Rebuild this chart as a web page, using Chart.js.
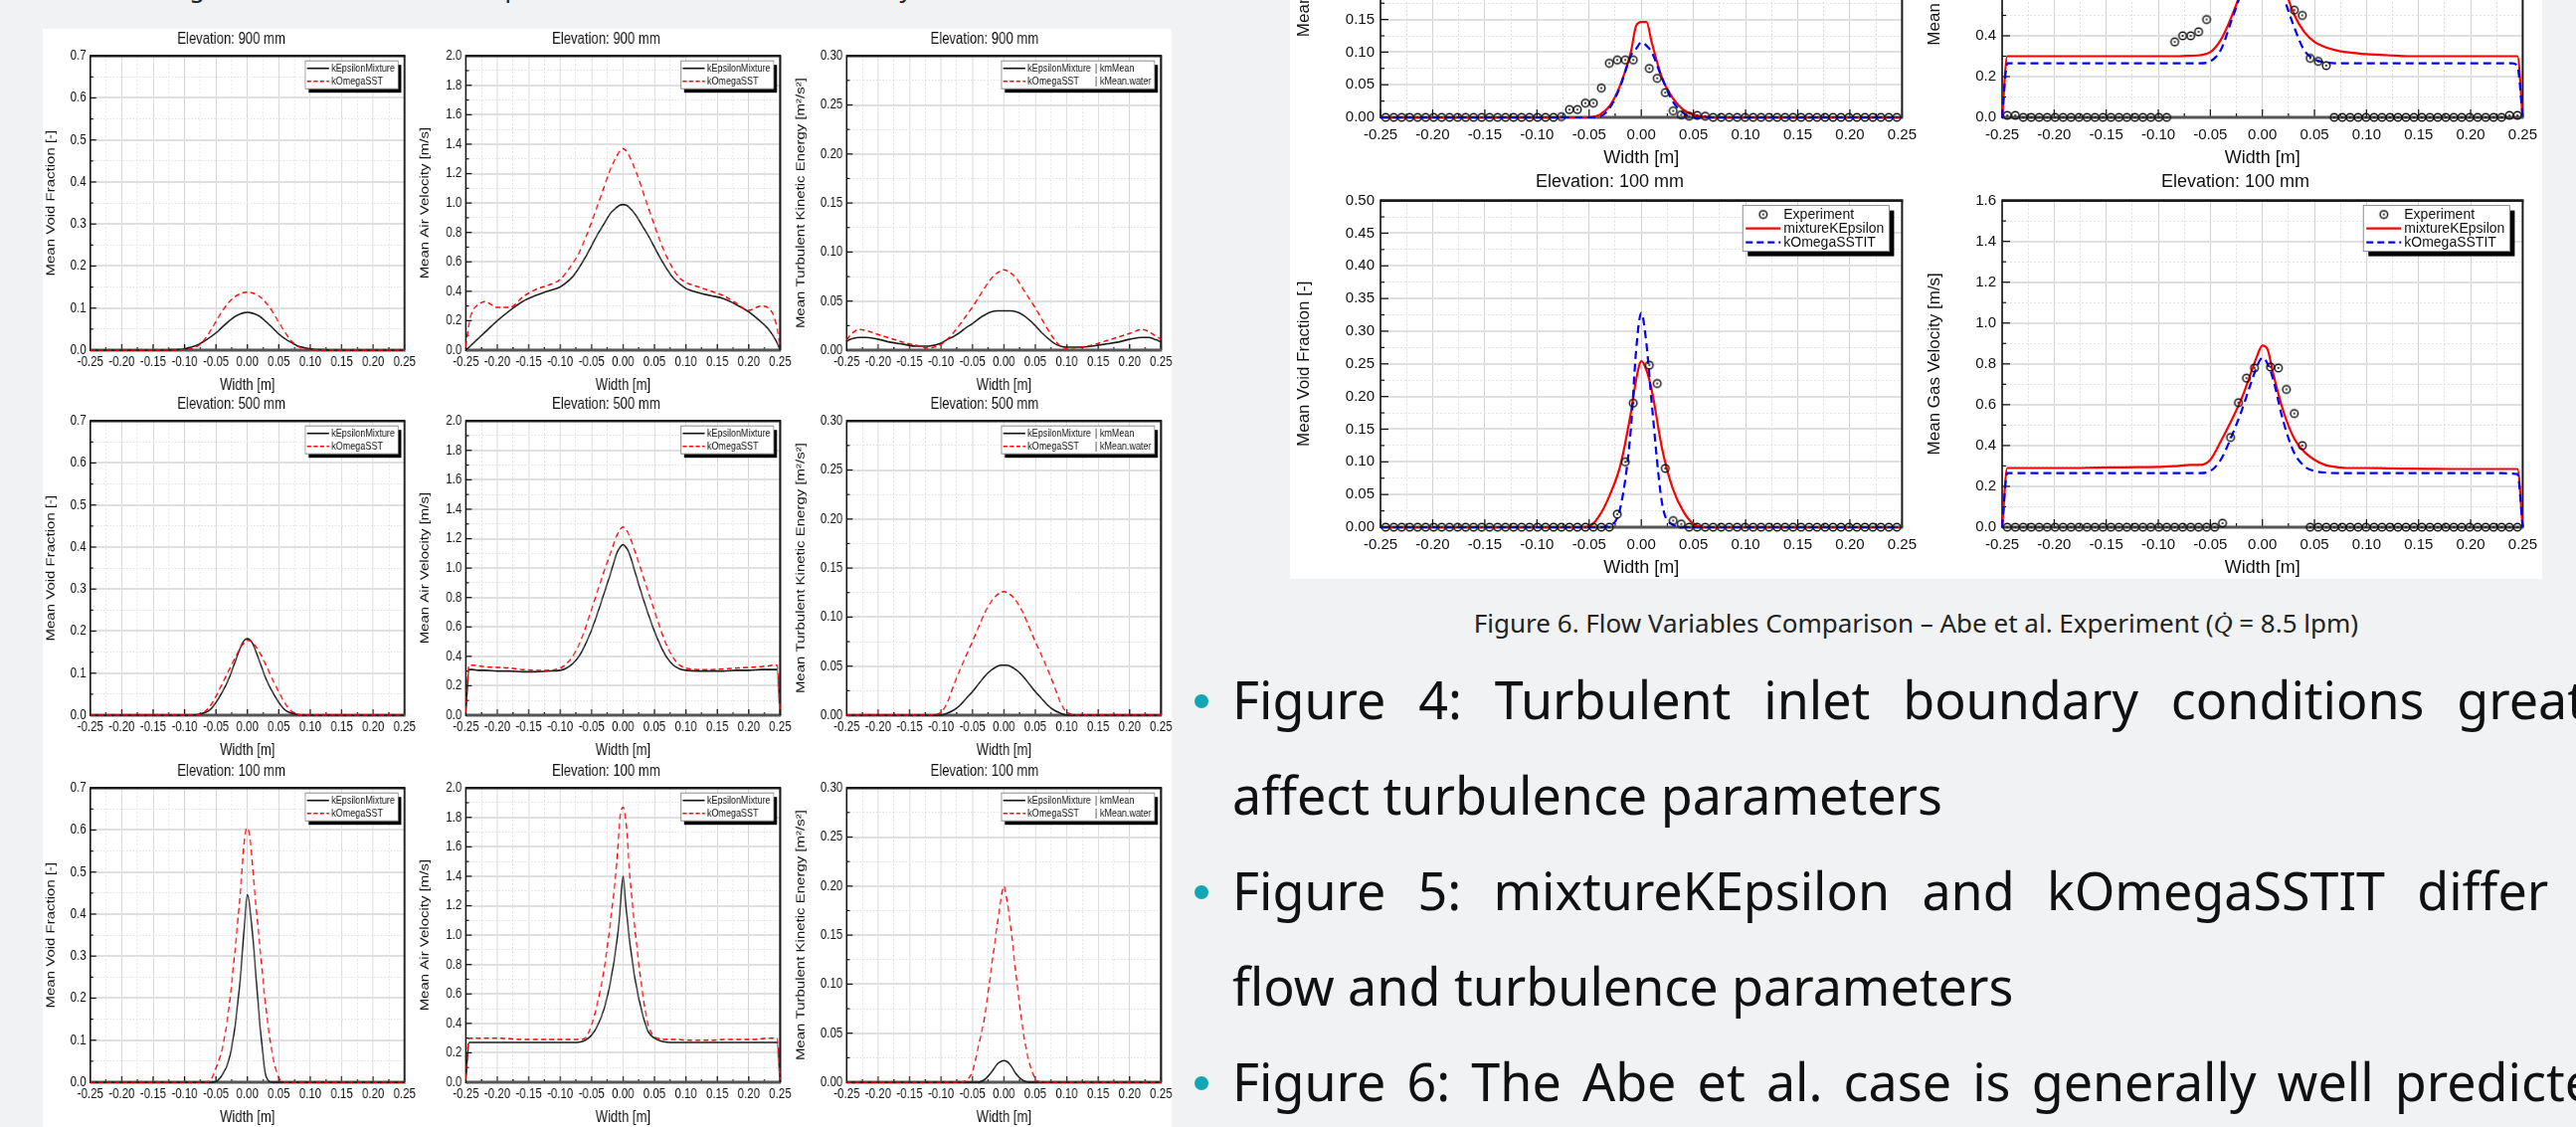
<!DOCTYPE html>
<html>
<head>
<meta charset="utf-8">
<script src="https://cdn.jsdelivr.net/npm/chart.js@4.4.1/dist/chart.umd.min.js"></script>
<style>
  body { margin: 0; width: 2590px; height: 1133px; overflow: hidden; position: relative;
         background: #f1f2f4; font-family: 'Noto Sans', sans-serif; }
  .panelL { position: absolute; left: 43px; top: 29px; width: 1135px; height: 1104px; background: #fff; }
  .panelR { position: absolute; left: 1297px; top: 0; width: 1259px; height: 582px; background: #fff; }
  .cap4 { position: absolute; left: 43px; width: 1135px; top: -27px; text-align: center;
          font-size: 25px; line-height: 28px; color: #222; white-space: nowrap; }
  .cap6 { position: absolute; left: 1297px; width: 1259px; top: 609px; text-align: center;
          font-size: 26px; line-height: 34px; color: #222; white-space: nowrap; }
  .cap6 i { font-family: 'Liberation Serif', serif; }
  .bullets { position: absolute; left: 1239px; top: 655px; width: 1401px; font-size: 52px;
             line-height: 96px; color: #111; text-align: justify; }
  .bullets p { margin: 0; position: relative; }
  .bullets p::before { content: ''; position: absolute; left: -38px; top: 43px; width: 14px; height: 14px;
                       border-radius: 50%; background: #12a6b6; }
</style>
</head>
<body>
<div class="panelL"></div>
<div class="panelR"></div>
<div class="cap4">Figure 4. Flow Variables Comparison – Turbulent Inlet Boundary Conditions</div>
<div class="cap6">Figure 6. Flow Variables Comparison – Abe et al. Experiment (<i>Q̇</i> = 8.5 lpm)</div>
<div class="bullets">
  <p>Figure 4: Turbulent inlet boundary conditions greatly affect turbulence parameters</p>
  <p>Figure 5: mixtureKEpsilon and kOmegaSSTIT differ in flow and turbulence parameters</p>
  <p>Figure 6: The Abe et al. case is generally well predicted with both turbulence models</p>
</div>
<script>
const FONT = "'Liberation Sans', Arial, sans-serif";
Chart.defaults.font.family = FONT;
Chart.defaults.color = '#111';

// shared width positions [m] for the simulated profiles
const xs = [-0.25, -0.245, -0.24, -0.23, -0.22, -0.2, -0.18, -0.16, -0.14, -0.12, -0.1,
            -0.09, -0.08, -0.07, -0.06, -0.05, -0.04, -0.03, -0.02, -0.01, -0.005,
            0,
            0.005, 0.01, 0.02, 0.03, 0.04, 0.05, 0.06, 0.07, 0.08, 0.09,
            0.1, 0.12, 0.14, 0.16, 0.18, 0.2, 0.22, 0.23, 0.24, 0.245, 0.25];

// Figure 4 (left): kEpsilonMixture (Ke) and kOmegaSST (Kw)
const vf900Ke = [0, 0, 0, 0, 0, 0, 0, 0, 0, 0.001, 0.003,
  0.007, 0.012, 0.02, 0.03, 0.041, 0.055, 0.068, 0.08, 0.087, 0.089,
  0.09,
  0.089, 0.087, 0.08, 0.067, 0.053, 0.038, 0.027, 0.018, 0.01, 0.006,
  0.003, 0.001, 0, 0, 0, 0, 0, 0, 0, 0, 0];
const vf900Kw = [0, 0, 0, 0, 0, 0, 0, 0, 0, 0, 0.001,
  0.003, 0.009, 0.022, 0.043, 0.068, 0.093, 0.113, 0.127, 0.135, 0.137,
  0.138,
  0.137, 0.135, 0.127, 0.112, 0.091, 0.066, 0.042, 0.022, 0.009, 0.003,
  0.001, 0, 0, 0, 0, 0, 0, 0, 0, 0, 0];
const av900Ke = [0, 0.02, 0.04, 0.08, 0.12, 0.2, 0.27, 0.33, 0.37, 0.4, 0.43,
  0.46, 0.5, 0.56, 0.63, 0.71, 0.79, 0.86, 0.93, 0.97, 0.985,
  0.99,
  0.985, 0.97, 0.92, 0.85, 0.78, 0.7, 0.62, 0.55, 0.49, 0.45,
  0.42, 0.39, 0.37, 0.35, 0.31, 0.26, 0.19, 0.15, 0.09, 0.05, 0];
const av900Kw = [0.02, 0.18, 0.26, 0.31, 0.33, 0.29, 0.29, 0.36, 0.41, 0.44, 0.48,
  0.53, 0.59, 0.66, 0.76, 0.87, 0.99, 1.11, 1.23, 1.32, 1.355,
  1.37,
  1.355, 1.32, 1.22, 1.1, 0.97, 0.85, 0.73, 0.63, 0.55, 0.49,
  0.46, 0.43, 0.4, 0.37, 0.32, 0.27, 0.3, 0.29, 0.23, 0.15, 0.02];
const tk900Ke = [0.009, 0.011, 0.012, 0.013, 0.013, 0.011, 0.008, 0.006, 0.004, 0.004, 0.007,
  0.011, 0.014, 0.018, 0.023, 0.027, 0.032, 0.036, 0.039, 0.04, 0.04,
  0.04,
  0.04, 0.04, 0.039, 0.036, 0.031, 0.025, 0.018, 0.012, 0.007, 0.004,
  0.003, 0.003, 0.004, 0.006, 0.008, 0.011, 0.013, 0.013, 0.011, 0.01, 0.008];
const tk900Kw = [0.01, 0.015, 0.018, 0.021, 0.02, 0.016, 0.012, 0.008, 0.005, 0.002, 0.006,
  0.011, 0.018, 0.026, 0.035, 0.044, 0.054, 0.064, 0.073, 0.079, 0.081,
  0.082,
  0.081, 0.079, 0.073, 0.063, 0.053, 0.043, 0.032, 0.021, 0.011, 0.004,
  0.002, 0.003, 0.005, 0.009, 0.013, 0.017, 0.021, 0.019, 0.015, 0.013, 0.011];

const vf500Ke = [0, 0, 0, 0, 0, 0, 0, 0, 0, 0, 0,
  0, 0.001, 0.005, 0.012, 0.03, 0.055, 0.085, 0.125, 0.165, 0.178,
  0.182,
  0.178, 0.165, 0.125, 0.085, 0.055, 0.03, 0.012, 0.005, 0.001, 0,
  0, 0, 0, 0, 0, 0, 0, 0, 0, 0, 0];
const vf500Kw = [0, 0, 0, 0, 0, 0, 0, 0, 0, 0, 0,
  0, 0, 0.006, 0.02, 0.045, 0.075, 0.105, 0.135, 0.163, 0.172,
  0.178,
  0.177, 0.17, 0.148, 0.118, 0.085, 0.055, 0.028, 0.01, 0.002, 0,
  0, 0, 0, 0, 0, 0, 0, 0, 0, 0, 0];
const av500Ke = [0, 0.31, 0.31, 0.305, 0.305, 0.3, 0.3, 0.295, 0.295, 0.3, 0.305,
  0.32, 0.35, 0.4, 0.48, 0.58, 0.7, 0.83, 0.96, 1.1, 1.14,
  1.16,
  1.14, 1.1, 0.96, 0.82, 0.69, 0.57, 0.47, 0.39, 0.34, 0.315,
  0.305, 0.3, 0.3, 0.3, 0.305, 0.305, 0.31, 0.31, 0.31, 0.31, 0];
const av500Kw = [0.02, 0.34, 0.34, 0.335, 0.33, 0.325, 0.32, 0.31, 0.305, 0.305, 0.32,
  0.35, 0.4, 0.48, 0.59, 0.72, 0.85, 0.98, 1.1, 1.22, 1.26,
  1.28,
  1.26, 1.22, 1.1, 0.97, 0.84, 0.71, 0.58, 0.47, 0.39, 0.34,
  0.32, 0.31, 0.31, 0.315, 0.32, 0.325, 0.33, 0.335, 0.34, 0.34, 0.02];
const tk500Ke = [0, 0, 0, 0, 0, 0, 0, 0, 0, 0, 0,
  0.002, 0.005, 0.01, 0.017, 0.024, 0.032, 0.04, 0.046, 0.05, 0.051,
  0.051,
  0.051, 0.05, 0.046, 0.04, 0.032, 0.024, 0.017, 0.01, 0.005, 0.002,
  0, 0, 0, 0, 0, 0, 0, 0, 0, 0, 0];
const tk500Kw = [0, 0, 0, 0, 0, 0, 0, 0, 0, 0, 0.003,
  0.013, 0.03, 0.046, 0.061, 0.075, 0.09, 0.105, 0.116, 0.123, 0.125,
  0.126,
  0.125, 0.123, 0.116, 0.105, 0.09, 0.075, 0.061, 0.046, 0.03, 0.013,
  0.003, 0, 0, 0, 0, 0, 0, 0, 0, 0, 0];

const vf100Ke = [0, 0, 0, 0, 0, 0, 0, 0, 0, 0, 0,
  0, 0, 0, 0, 0.002, 0.018, 0.05, 0.13, 0.27, 0.37,
  0.446,
  0.4, 0.32, 0.136, 0.012, 0, 0, 0, 0, 0, 0,
  0, 0, 0, 0, 0, 0, 0, 0, 0, 0, 0];
const vf100Kw = [0, 0, 0, 0, 0, 0, 0, 0, 0, 0, 0,
  0, 0, 0, 0.003, 0.034, 0.08, 0.17, 0.31, 0.475, 0.575,
  0.605,
  0.57, 0.48, 0.32, 0.17, 0.065, 0.01, 0, 0, 0, 0,
  0, 0, 0, 0, 0, 0, 0, 0, 0, 0, 0];
const av100Ke = [0, 0.27, 0.27, 0.27, 0.27, 0.27, 0.27, 0.27, 0.27, 0.27, 0.27,
  0.27, 0.27, 0.272, 0.285, 0.32, 0.39, 0.5, 0.68, 0.95, 1.15,
  1.4,
  1.18, 0.98, 0.68, 0.48, 0.345, 0.3, 0.28, 0.272, 0.27, 0.27,
  0.27, 0.27, 0.27, 0.27, 0.27, 0.27, 0.27, 0.27, 0.27, 0.27, 0];
const av100Kw = [0.02, 0.3, 0.3, 0.3, 0.3, 0.3, 0.295, 0.29, 0.29, 0.29, 0.29,
  0.29, 0.29, 0.29, 0.3, 0.39, 0.55, 0.77, 1.09, 1.49, 1.79,
  1.87,
  1.76, 1.45, 1.0, 0.64, 0.39, 0.31, 0.295, 0.29, 0.29, 0.29,
  0.285, 0.285, 0.285, 0.29, 0.29, 0.29, 0.295, 0.3, 0.3, 0.3, 0.02];
const tk100Ke = [0, 0, 0, 0, 0, 0, 0, 0, 0, 0, 0,
  0, 0, 0, 0, 0, 0, 0.003, 0.01, 0.019, 0.021,
  0.022,
  0.021, 0.018, 0.008, 0.002, 0, 0, 0, 0, 0, 0,
  0, 0, 0, 0, 0, 0, 0, 0, 0, 0, 0];
const tk100Kw = [0, 0, 0, 0, 0, 0, 0, 0, 0, 0, 0,
  0, 0, 0, 0.002, 0.011, 0.038, 0.069, 0.116, 0.163, 0.185,
  0.2,
  0.185, 0.163, 0.106, 0.055, 0.021, 0.004, 0, 0, 0, 0,
  0, 0, 0, 0, 0, 0, 0, 0, 0, 0, 0];

// Figure 6 (right): mixtureKEpsilon (Mix) and kOmegaSSTIT (Sst)
const topVoidMix = [0, 0, 0, 0, 0, 0, 0, 0, 0, 0, 0,
  0, 0, 0, 0, 0, 0.004, 0.018, 0.05, 0.1, 0.14,
  0.146,
  0.146, 0.115, 0.06, 0.03, 0.012, 0.004, 0.001, 0, 0, 0,
  0, 0, 0, 0, 0, 0, 0, 0, 0, 0, 0];
const topVoidSst = [0, 0, 0, 0, 0, 0, 0, 0, 0, 0, 0,
  0, 0, 0, 0, 0, 0.001, 0.015, 0.048, 0.095, 0.105,
  0.115,
  0.11, 0.1, 0.06, 0.025, 0.007, 0, 0, 0, 0, 0,
  0, 0, 0, 0, 0, 0, 0, 0, 0, 0, 0];
const topVelMix = [0, 0.3, 0.3, 0.3, 0.3, 0.3, 0.3, 0.3, 0.3, 0.3, 0.3,
  0.3, 0.3, 0.302, 0.305, 0.32, 0.38, 0.49, 0.63, 0.85, 0.95,
  1.0,
  0.95, 0.85, 0.66, 0.51, 0.42, 0.37, 0.345, 0.33, 0.32, 0.315,
  0.31, 0.305, 0.3, 0.3, 0.3, 0.3, 0.3, 0.3, 0.3, 0.3, 0];
const topVelSst = [0, 0.265, 0.265, 0.265, 0.265, 0.265, 0.265, 0.265, 0.265, 0.265, 0.265,
  0.265, 0.265, 0.265, 0.265, 0.275, 0.33, 0.47, 0.62, 0.8, 0.9,
  0.95,
  0.9, 0.78, 0.6, 0.45, 0.33, 0.285, 0.27, 0.265, 0.265, 0.265,
  0.265, 0.265, 0.265, 0.265, 0.265, 0.265, 0.265, 0.265, 0.265, 0.25, 0];
const botVoidMix = [0, 0, 0, 0, 0, 0, 0, 0, 0, 0, 0,
  0, 0, 0, 0, 0.001, 0.018, 0.05, 0.095, 0.175, 0.225,
  0.254,
  0.24, 0.21, 0.12, 0.06, 0.025, 0.005, 0, 0, 0, 0,
  0, 0, 0, 0, 0, 0, 0, 0, 0, 0, 0];
const botVoidSst = [0, 0, 0, 0, 0, 0, 0, 0, 0, 0, 0,
  0, 0, 0, 0, 0, 0, 0.003, 0.03, 0.15, 0.27,
  0.328,
  0.28, 0.19, 0.036, 0.004, 0, 0, 0, 0, 0, 0,
  0, 0, 0, 0, 0, 0, 0, 0, 0, 0, 0];
const botVelMix = [0, 0.29, 0.29, 0.29, 0.29, 0.29, 0.29, 0.292, 0.293, 0.294, 0.295,
  0.298, 0.3, 0.305, 0.305, 0.33, 0.42, 0.52, 0.63, 0.77, 0.84,
  0.89,
  0.87, 0.76, 0.57, 0.44, 0.37, 0.33, 0.305, 0.295, 0.29, 0.29,
  0.29, 0.288, 0.287, 0.286, 0.285, 0.285, 0.285, 0.285, 0.285, 0.285, 0];
const botVelSst = [0, 0.265, 0.265, 0.265, 0.265, 0.265, 0.265, 0.265, 0.265, 0.265, 0.265,
  0.265, 0.265, 0.265, 0.265, 0.275, 0.33, 0.44, 0.57, 0.72, 0.79,
  0.83,
  0.8, 0.73, 0.52, 0.37, 0.3, 0.275, 0.268, 0.265, 0.265, 0.265,
  0.265, 0.265, 0.265, 0.265, 0.265, 0.265, 0.265, 0.265, 0.262, 0.26, 0];

// Abe et al. experiment, measurement positions and values
const expX = [-0.245, -0.2373, -0.2297, -0.222, -0.2144, -0.2067, -0.1991, -0.1914,
  -0.1838, -0.1761, -0.1684, -0.1608, -0.1531, -0.1455, -0.1378, -0.1302,
  -0.1225, -0.1148, -0.1072, -0.0995, -0.0919, -0.0842, -0.0766, -0.0689,
  -0.0613, -0.0536, -0.0459, -0.0383, -0.0306, -0.023, -0.0153, -0.0077,
  0.0077, 0.0153, 0.023, 0.0306, 0.0383, 0.0459, 0.0536, 0.0613,
  0.0689, 0.0766, 0.0842, 0.0919, 0.0995, 0.1072, 0.1148, 0.1225,
  0.1302, 0.1378, 0.1455, 0.1531, 0.1608, 0.1684, 0.1761, 0.1838,
  0.1914, 0.1991, 0.2067, 0.2144, 0.222, 0.2297, 0.2373, 0.245];
const expTopVoid = [0, 0, 0, 0, 0, 0, 0, 0, 0, 0, 0, 0, 0, 0, 0, 0,
  0, 0, 0, 0, 0, 0, 0.001, 0.012, 0.012, 0.022, 0.022, 0.045, 0.083, 0.088, 0.088, 0.088,
  0.075, 0.06, 0.038, 0.01, 0.004, 0.002, 0.003, 0.002, 0, 0, 0, 0, 0, 0, 0, 0,
  0, 0, 0, 0, 0, 0, 0, 0, 0, 0, 0, 0, 0, 0, 0, 0];
const expTopVel = [0.01, 0.01, 0, 0, 0, 0, 0, 0, 0, 0, 0, 0, 0, 0, 0, 0,
  0, 0, 0, 0, 0, 0.37, 0.4, 0.4, 0.42, 0.48, null, null, null, null, null, null,
  null, null, null, 0.526, 0.5, 0.29, 0.275, 0.254, 0, 0, 0, 0, 0, 0, 0, 0,
  0, 0, 0, 0, 0, 0, 0, 0, 0, 0, 0, 0, 0, 0, 0.01, 0.01];
const expBotVoid = [0, 0, 0, 0, 0, 0, 0, 0, 0, 0, 0, 0, 0, 0, 0, 0,
  0, 0, 0, 0, 0, 0, 0, 0, 0, 0, 0, 0, 0, 0.02, 0.1, 0.19,
  0.248, 0.22, 0.09, 0.01, 0.005, 0, 0, 0, 0, 0, 0, 0, 0, 0, 0, 0,
  0, 0, 0, 0, 0, 0, 0, 0, 0, 0, 0, 0, 0, 0, 0, 0];
const expBotVel = [0, 0, 0, 0, 0, 0, 0, 0, 0, 0, 0, 0, 0, 0, 0, 0,
  0, 0, 0, 0, 0, 0, 0, 0, 0, 0, 0, 0.02, 0.44, 0.61, 0.73, 0.78,
  0.785, 0.78, 0.675, 0.557, 0.4, 0, 0, 0, 0, 0, 0, 0, 0, 0, 0, 0,
  0, 0, 0, 0, 0, 0, 0, 0, 0, 0, 0, 0, 0, 0, 0, 0];

function isMajor(v, m) {
  const q = v / m;
  return Math.abs(q - Math.round(q)) < 1e-6;
}

function pts(xv, yv) {
  return xv.map((x, i) => ({ x: x, y: yv[i] }));
}

// open circle with a centre dot, like the Origin "Experiment" symbol
function ringDot(r) {
  const c = document.createElement('canvas');
  const s = Math.ceil(r * 2 + 4);
  c.width = s; c.height = s;
  const g = c.getContext('2d');
  g.strokeStyle = '#111'; g.lineWidth = 1.4;
  g.beginPath(); g.arc(s / 2, s / 2, r, 0, Math.PI * 2); g.stroke();
  g.fillStyle = '#111';
  g.beginPath(); g.arc(s / 2, s / 2, 1, 0, Math.PI * 2); g.fill();
  return c;
}
const ring = ringDot(3.8);

function framePlugin(o) {
  return {
    id: 'frame',
    beforeDatasetsDraw(chart) {
      const { ctx, chartArea: a } = chart;
      const sx = chart.scales.x, sy = chart.scales.y;
      ctx.save();
      ctx.strokeStyle = '#111';
      ctx.lineWidth = 1.2 / o.sx;
      sx.ticks.forEach(t => {
        const p = sx.getPixelForValue(t.value);
        const len = isMajor(t.value, 0.05) ? o.f.tickLen : o.f.tickLen / 2;
        ctx.beginPath(); ctx.moveTo(p, a.bottom); ctx.lineTo(p, a.bottom - len); ctx.stroke();
      });
      ctx.lineWidth = 1.2;
      sy.ticks.forEach(t => {
        const p = sy.getPixelForValue(t.value);
        const len = (isMajor(t.value, o.yMajor) ? o.f.tickLen : o.f.tickLen / 2) / o.sx;
        ctx.beginPath(); ctx.moveTo(a.left, p); ctx.lineTo(a.left + len, p); ctx.stroke();
      });
      const seg = (x1, y1, x2, y2, c, w) => {
        ctx.strokeStyle = c; ctx.lineWidth = w;
        ctx.beginPath(); ctx.moveTo(x1, y1); ctx.lineTo(x2, y2); ctx.stroke();
      };
      seg(a.left, a.top, a.right + 1, a.top, '#1a1a1a', 2.6);
      seg(a.right, a.top, a.right, a.bottom, '#1a1a1a', 2 / o.sx);
      seg(a.left, a.bottom, a.right + 1, a.bottom, '#555', 3);
      seg(a.left, a.top - 1, a.left, a.bottom + 1, '#111', 1.6 / o.sx);
      ctx.restore();
    }
  };
}

function legendPlugin(o) {
  const L = o.f.legend;
  return {
    id: 'boxLegend',
    afterDraw(chart) {
      const { ctx, chartArea: a } = chart;
      ctx.save();
      ctx.font = L.size + 'px ' + FONT;
      const tw = Math.max(...o.legend.map(it => ctx.measureText(it.text).width));
      let extra = 0;
      if (o.legend[0].text2) {
        extra = L.colGap + Math.max(...o.legend.map(it => ctx.measureText('| ' + it.text2).width));
      }
      const w = L.pad + L.sample + L.gap + tw + extra + L.pad + 2;
      const h = L.rowH * o.legend.length + L.padY * 2;
      const bx = a.right - L.right - w, by = a.top + L.top;
      ctx.fillStyle = '#000';
      ctx.fillRect(bx + L.shadow, by + L.shadow, w, h);
      ctx.fillStyle = '#fff';
      ctx.fillRect(bx, by, w, h);
      ctx.strokeStyle = '#8a8a8a'; ctx.lineWidth = 1;
      ctx.strokeRect(bx, by, w, h);
      o.legend.forEach((it, i) => {
        const cy = by + L.padY + L.rowH * (i + 0.5);
        const x0 = bx + L.pad;
        if (it.kind === 'ring') {
          ctx.drawImage(ring, x0 + L.sample / 2 - ring.width / 2, cy - ring.height / 2);
        } else {
          ctx.strokeStyle = it.color; ctx.lineWidth = it.width;
          ctx.setLineDash(it.dash || []);
          ctx.beginPath(); ctx.moveTo(x0, cy); ctx.lineTo(x0 + L.sample, cy); ctx.stroke();
          ctx.setLineDash([]);
        }
        ctx.fillStyle = '#111'; ctx.textBaseline = 'middle'; ctx.textAlign = 'left';
        ctx.fillText(it.text, x0 + L.sample + L.gap, cy + 0.5);
        if (it.text2) ctx.fillText('| ' + it.text2, x0 + L.sample + L.gap + tw + L.colGap, cy + 0.5);
      });
      ctx.restore();
    }
  };
}

function makeChart(o) {
  const f = o.f;
  const holder = document.createElement('div');
  holder.style.position = 'absolute';
  const cv = document.createElement('canvas');
  cv.width = 700; cv.height = 500;
  cv.style.display = 'block';
  if (o.sx !== 1) {
    cv.style.transformOrigin = '0 0';
    cv.style.transform = 'scaleX(' + o.sx + ')';
  }
  holder.appendChild(cv);
  document.body.appendChild(holder);

  const chart = new Chart(cv, {
    type: 'line',
    data: { datasets: o.datasets },
    options: {
      responsive: false,
      maintainAspectRatio: false,
      animation: false,
      devicePixelRatio: 1,
      events: [],
      layout: { padding: 0 },
      plugins: {
        legend: { display: false },
        tooltip: { enabled: false },
        title: {
          display: !!o.title, text: o.title, color: '#111',
          font: { size: f.title, weight: 'normal' },
          padding: { top: 2, bottom: f.titleGap }
        }
      },
      scales: {
        x: {
          type: 'linear', min: -0.25, max: 0.25,
          afterFit: s => { s.height = f.xAxisH; },
          grid: {
            drawTicks: false,
            color: c => (c.tick && isMajor(c.tick.value, 0.05)) ? '#d2d2d2' : '#dedede',
            lineWidth: 1
          },
          border: { display: false, dash: c => (c.tick && !isMajor(c.tick.value, 0.05)) ? [2, 2] : [] },
          ticks: {
            stepSize: 0.025, autoSkip: false, maxRotation: 0, minRotation: 0,
            padding: f.xPad, color: '#111', font: { size: f.tick },
            callback: v => isMajor(v, 0.05) ? v.toFixed(2) : ''
          },
          title: { display: true, text: 'Width [m]', color: '#111', font: { size: f.axTitle }, padding: 0 }
        },
        y: {
          type: 'linear', min: 0, max: o.yMax,
          afterFit: s => { s.width = o.yAxisW; },
          grid: {
            drawTicks: false,
            color: c => (c.tick && isMajor(c.tick.value, o.yMajor)) ? '#e0e0e0' : '#e4e4e4',
            lineWidth: c => (c.tick && isMajor(c.tick.value, o.yMajor)) ? 2 : 1
          },
          border: { display: false, dash: c => (c.tick && !isMajor(c.tick.value, o.yMajor)) ? [2, 2] : [] },
          ticks: {
            stepSize: o.yStep, autoSkip: false, padding: f.yPad, color: '#111', font: { size: f.tick },
            callback: v => isMajor(v, o.yMajor) ? v.toFixed(o.yDec) : ''
          },
          title: { display: true, text: o.yTitle, color: '#111', font: { size: f.yTitle }, padding: 0 }
        }
      }
    },
    plugins: [framePlugin(o), legendPlugin(o)]
  });

  // place the plot area exactly where the figure has it
  let a = chart.chartArea;
  const mL = a.left, mR = chart.width - a.right, mT = a.top, mB = chart.height - a.bottom;
  chart.resize(Math.round(o.w / o.sx + mL + mR), Math.round(o.h + mT + mB));
  a = chart.chartArea;
  holder.style.left = (o.x - a.left * o.sx) + 'px';
  holder.style.top = (o.y - a.top) + 'px';
  return chart;
}

function line(xv, yv, color, width, dash) {
  return {
    data: pts(xv, yv), borderColor: color, borderWidth: width, borderDash: dash || [],
    pointRadius: 0, fill: false, clip: false, cubicInterpolationMode: 'monotone'
  };
}
function expSet(yv) {
  return {
    data: pts(expX, yv), showLine: false, pointStyle: ring, pointRadius: 4,
    borderColor: '#111', clip: false
  };
}

const leftF = {
  title: 16, titleGap: 7, tick: 14, axTitle: 16, yTitle: 15, xAxisH: 45, xPad: 4, yPad: 5, tickLen: 6,
  legend: { size: 11, sample: 27, gap: 3, pad: 2, padY: 1, rowH: 13, right: 8, top: 5, shadow: 4, colGap: 5 }
};
const rightF = {
  title: 18, titleGap: 8, tick: 15, axTitle: 18, yTitle: 17, xAxisH: 52, xPad: 9, yPad: 6, tickLen: 8,
  legend: { size: 14, sample: 35, gap: 3, pad: 3, padY: 2, rowH: 14, right: 13, top: 5, shadow: 5, colGap: 0 }
};

const legL = [
  { kind: 'line', color: '#111', width: 1.6, text: 'kEpsilonMixture', text2: null },
  { kind: 'line', color: '#ff0000', width: 1.6, dash: [5, 3], text: 'kOmegaSST', text2: null }
];
const legK = [
  { kind: 'line', color: '#111', width: 1.6, text: 'kEpsilonMixture', text2: 'kmMean' },
  { kind: 'line', color: '#ff0000', width: 1.6, dash: [5, 3], text: 'kOmegaSST', text2: 'kMean.water' }
];
const legR = [
  { kind: 'ring', text: 'Experiment' },
  { kind: 'line', color: '#ff0000', width: 2.2, text: 'mixtureKEpsilon' },
  { kind: 'line', color: '#0000ff', width: 2.2, dash: [7, 4], text: 'kOmegaSSTIT' }
];

const cols = [
  { x: 91, yTitle: 'Mean Void Fraction [-]', yMax: 0.7, yStep: 0.05, yMajor: 0.1, yDec: 1, yAxisW: 57, legend: legL },
  { x: 468, yTitle: 'Mean Air Velocity [m/s]', yMax: 2.0, yStep: 0.1, yMajor: 0.2, yDec: 1, yAxisW: 59, legend: legL },
  { x: 851, yTitle: 'Mean Turbulent Kinetic Energy [m²/s²]', yMax: 0.3, yStep: 0.025, yMajor: 0.05, yDec: 2, yAxisW: 65, legend: legK }
];
const rows = [
  { y: 56, title: 'Elevation: 900 mm', ke: [vf900Ke, av900Ke, tk900Ke], kw: [vf900Kw, av900Kw, tk900Kw] },
  { y: 423, title: 'Elevation: 500 mm', ke: [vf500Ke, av500Ke, tk500Ke], kw: [vf500Kw, av500Kw, tk500Kw] },
  { y: 792, title: 'Elevation: 100 mm', ke: [vf100Ke, av100Ke, tk100Ke], kw: [vf100Kw, av100Kw, tk100Kw] }
];

rows.forEach(r => {
  cols.forEach((c, j) => {
    makeChart(Object.assign({}, c, {
      y: r.y, w: 316, h: 296, sx: 0.82, f: leftF, title: r.title,
      datasets: [line(xs, r.kw[j], '#ff0000', 1.5, [6, 4]), line(xs, r.ke[j], '#1a1a1a', 1.6)]
    }));
  });
});

const voidR = { yTitle: 'Mean Void Fraction [-]', yMax: 0.5, yStep: 0.025, yMajor: 0.05, yDec: 2, yAxisW: 87, x: 1388, w: 524 };
const velR = { yTitle: 'Mean Gas Velocity [m/s]', yMax: 1.6, yStep: 0.1, yMajor: 0.2, yDec: 1, yAxisW: 78, x: 2013, w: 523 };

makeChart(Object.assign({}, voidR, { y: -210, h: 328, sx: 1, f: rightF, title: '', legend: legR,
  datasets: [expSet(expTopVoid), line(xs, topVoidSst, '#0000ff', 2.2, [8, 5]), line(xs, topVoidMix, '#ff0000', 2.2)] }));
makeChart(Object.assign({}, velR, { y: -210, h: 328, sx: 1, f: rightF, title: '', legend: legR,
  datasets: [expSet(expTopVel), line(xs, topVelSst, '#0000ff', 2.2, [8, 5]), line(xs, topVelMix, '#ff0000', 2.2)] }));
makeChart(Object.assign({}, voidR, { y: 202, h: 328, sx: 1, f: rightF, title: 'Elevation: 100 mm', legend: legR,
  datasets: [expSet(expBotVoid), line(xs, botVoidSst, '#0000ff', 2.2, [8, 5]), line(xs, botVoidMix, '#ff0000', 2.2)] }));
makeChart(Object.assign({}, velR, { y: 202, h: 328, sx: 1, f: rightF, title: 'Elevation: 100 mm', legend: legR,
  datasets: [expSet(expBotVel), line(xs, botVelSst, '#0000ff', 2.2, [8, 5]), line(xs, botVelMix, '#ff0000', 2.2)] }));
</script>
</body>
</html>
